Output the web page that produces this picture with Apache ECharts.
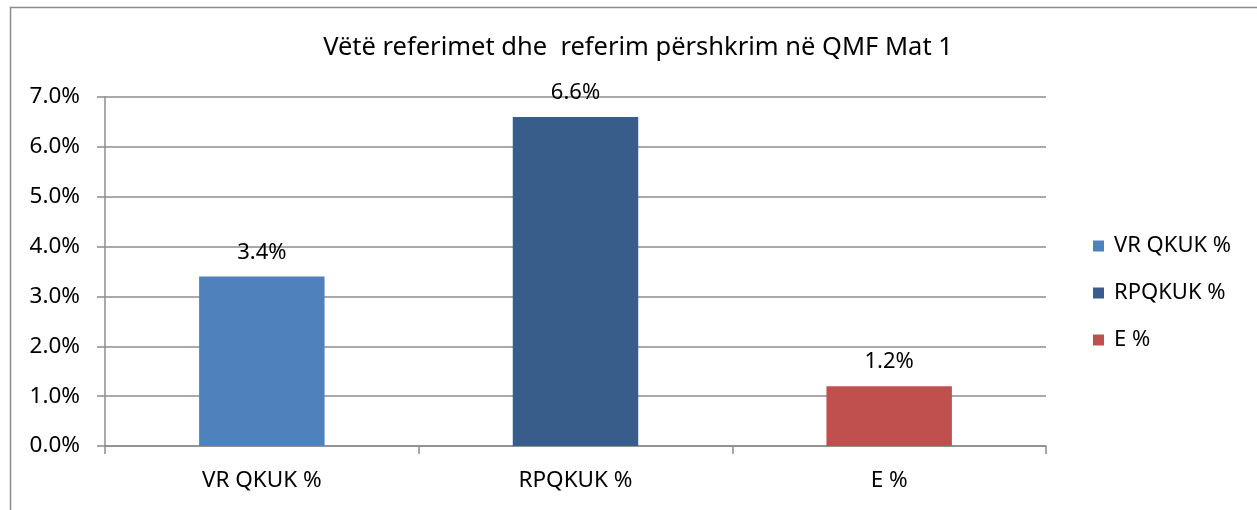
<!DOCTYPE html>
<html>
<head>
<meta charset="utf-8">
<script src="https://cdn.jsdelivr.net/npm/echarts@6/dist/echarts.min.js"></script>
<style>
  html, body { margin: 0; padding: 0; background: #ffffff; }
  #chart { width: 1257px; height: 510px; }
</style>
</head>
<body>
<div id="chart"></div>
<script>
// Chart data (percent values)
const titleText = 'Vëtë referimet dhe  referim përshkrim në QMF Mat 1';
const categories = ['VR QKUK %', 'RPQKUK %', 'E %'];
const seriesNames = ['VR QKUK %', 'RPQKUK %', 'E %'];
const seriesValues = [3.4, 6.6, 1.2];
const seriesColors = ['#4F81BD', '#385D8A', '#C0504D'];

const FONT = 'Noto Sans';
const AXIS_GRAY = '#8C8C8C';

// One series per category so each bar gets its own legend entry
const series = seriesNames.map((name, i) => ({
  name: name,
  type: 'bar',
  stack: 'all',
  barWidth: '40%',
  itemStyle: { color: seriesColors[i] },
  label: {
    show: true,
    position: 'top',
    distance: 13,
    fontFamily: FONT,
    fontSize: 22,
    color: '#000',
    formatter: p => p.value.toFixed(1) + '%'
  },
  data: categories.map((c, j) => (j === i ? seriesValues[i] : null))
}));

const chart = echarts.init(document.getElementById('chart'), null, { renderer: 'canvas' });
chart.setOption({
  backgroundColor: '#ffffff',
  animation: false,
  title: {
    text: titleText,
    left: 633,
    textAlign: 'center',
    top: 30,
    textStyle: { fontFamily: FONT, fontSize: 25.5, fontWeight: 'normal', color: '#000' }
  },
  graphic: [{
    type: 'rect',
    shape: { x: 10.5, y: 7.5, width: 1400, height: 600 },
    style: { fill: 'none', stroke: AXIS_GRAY, lineWidth: 1.5 },
    silent: true
  }],
  legend: {
    orient: 'vertical',
    left: 1088,
    top: 230,
    itemWidth: 11,
    itemHeight: 11,
    itemGap: 25,
    icon: 'rect',
    textStyle: { fontFamily: FONT, fontSize: 22, color: '#000', padding: [0, 0, 0, 5] },
    data: seriesNames
  },
  grid: { left: 105, right: 211, top: 97, bottom: 64, containLabel: false },
  xAxis: {
    type: 'category',
    data: categories,
    axisLine: { lineStyle: { color: AXIS_GRAY, width: 1.5 } },
    axisTick: { show: true, alignWithLabel: false, length: 8, lineStyle: { color: AXIS_GRAY, width: 1.5 } },
    axisLabel: { fontFamily: FONT, fontSize: 22.5, color: '#000', margin: 23 }
  },
  yAxis: {
    type: 'value',
    min: 0,
    max: 7,
    interval: 1,
    axisLine: { show: true, lineStyle: { color: AXIS_GRAY, width: 1.5 } },
    axisTick: { show: true, length: 8, lineStyle: { color: AXIS_GRAY, width: 1.5 } },
    splitLine: { show: true, lineStyle: { color: AXIS_GRAY, width: 1.5 } },
    axisLabel: {
      fontFamily: FONT, fontSize: 22.5, color: '#000', margin: 25,
      formatter: v => v.toFixed(1) + '%'
    }
  },
  series: series
});
</script>
</body>
</html>
